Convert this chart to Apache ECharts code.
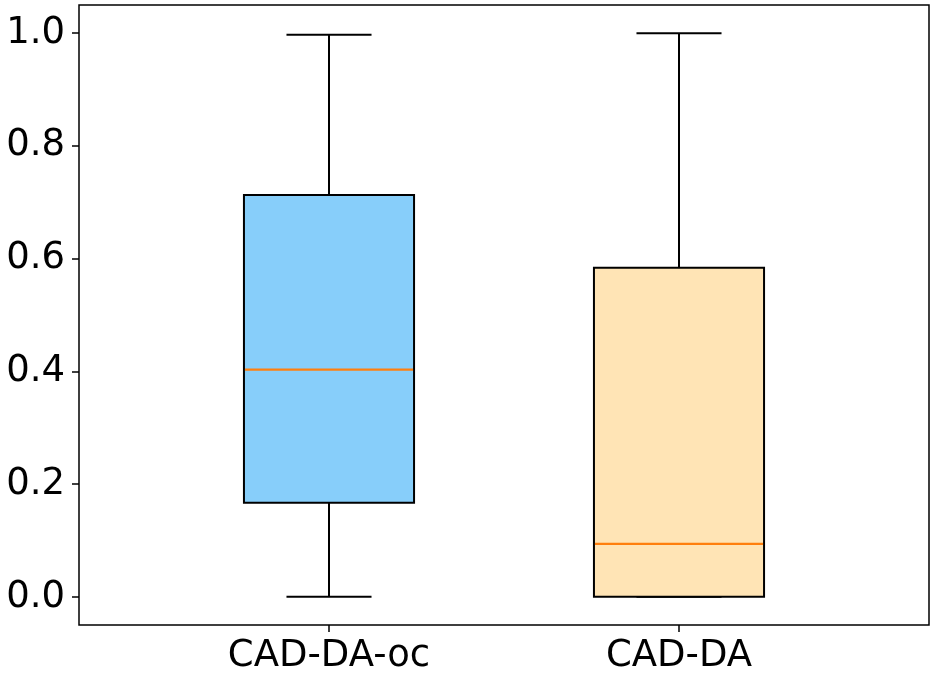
<!DOCTYPE html>
<html lang="en">
<head>
    <meta charset="UTF-8">
    <title>Boxplot</title>
    <script src="https://cdn.jsdelivr.net/npm/echarts@6.0.0/dist/echarts.min.js"></script>
    <style>
        html, body { margin: 0; padding: 0; background: #fff; }
    </style>
</head>
<body>
    <div id="echart" style="width: 934px; height: 676px;"></div>
</body>
<script>
    // data
    const categories = ['CAD-DA-oc', 'CAD-DA'];
    const lowWhisker = [0.0, 0.0];
    const q1 = [0.167, 0.0];
    const median = [0.403, 0.094];
    const q3 = [0.713, 0.584];
    const highWhisker = [0.997, 1.0];

    const boxFill = ['#87cefa', '#ffe4b5'];
    const medianColor = '#ff7f0e';
    const font = 'DejaVu Sans';

    const rows = categories.map((c, i) => [i, lowWhisker[i], q1[i], median[i], q3[i], highWhisker[i]]);

    function renderBox(params, api) {
        const idx = api.value(0);
        const band = api.size([1, 0])[0];
        const boxW = band * 0.486;   // box about half the slot
        const capW = boxW / 2;
        const pLow = api.coord([idx, api.value(1)]);
        const pQ1 = api.coord([idx, api.value(2)]);
        const pMed = api.coord([idx, api.value(3)]);
        const pQ3 = api.coord([idx, api.value(4)]);
        const pHigh = api.coord([idx, api.value(5)]);
        const x = pLow[0];
        const line = { stroke: '#000', lineWidth: 2 };
        return {
            type: 'group',
            children: [
                { type: 'line', shape: { x1: x, y1: pQ3[1], x2: x, y2: pHigh[1] }, style: line },
                { type: 'line', shape: { x1: x, y1: pQ1[1], x2: x, y2: pLow[1] }, style: line },
                { type: 'line', shape: { x1: x - capW / 2, y1: pHigh[1], x2: x + capW / 2, y2: pHigh[1] }, style: line },
                { type: 'line', shape: { x1: x - capW / 2, y1: pLow[1], x2: x + capW / 2, y2: pLow[1] }, style: line },
                {
                    type: 'rect',
                    shape: { x: x - boxW / 2, y: pQ3[1], width: boxW, height: pQ1[1] - pQ3[1] },
                    style: { fill: boxFill[idx], stroke: '#000', lineWidth: 2 }
                },
                { type: 'line', shape: { x1: x - boxW / 2 + 1, y1: pMed[1], x2: x + boxW / 2 - 1, y2: pMed[1] },
                  style: { stroke: medianColor, lineWidth: 2.2 } }
            ]
        };
    }

    const myChart = echarts.init(document.getElementById('echart'));
    myChart.setOption({
        animation: false,
        grid: [
            // frame
            { left: 79, right: 5, top: 5, bottom: 51, show: true, borderColor: '#000', borderWidth: 1.5, backgroundColor: '#fff' },
            // boxes: same height as frame, category slots 350px wide
            { left: 154, width: 700, top: 5, bottom: 51 },
            // visible y axis, 0..1
            { left: 79, right: 5, top: 33, height: 564 }
        ],
        xAxis: [
            { gridIndex: 0, type: 'value', show: false },
            {
                gridIndex: 1, type: 'category', data: categories,
                axisLine: { show: false, onZero: false },
                axisTick: { show: true, alignWithLabel: true, length: 7, lineStyle: { color: '#000', width: 1.5 } },
                axisLabel: { color: '#000', fontFamily: font, fontSize: 37, margin: 13 },
                splitLine: { show: false }
            },
            { gridIndex: 2, type: 'value', show: false }
        ],
        yAxis: [
            { gridIndex: 0, type: 'value', show: false },
            // matplotlib pads 5% each side of the 0..1 data
            { gridIndex: 1, type: 'value', min: -0.05, max: 1.05, show: false },
            {
                gridIndex: 2, type: 'value', min: 0, max: 1, interval: 0.2,
                axisLine: { show: false, onZero: false },
                axisTick: { show: true, length: 7, lineStyle: { color: '#000', width: 1.5 } },
                axisLabel: {
                    color: '#000', fontFamily: font, fontSize: 37, margin: 14,
                    formatter: v => v.toFixed(1)
                },
                splitLine: { show: false }
            }
        ],
        series: [
            {
                type: 'custom',
                xAxisIndex: 1,
                yAxisIndex: 1,
                renderItem: renderBox,
                encode: { x: 0, y: [1, 2, 3, 4, 5] },
                data: rows,
                clip: false
            }
        ]
    });
</script>
</html>
